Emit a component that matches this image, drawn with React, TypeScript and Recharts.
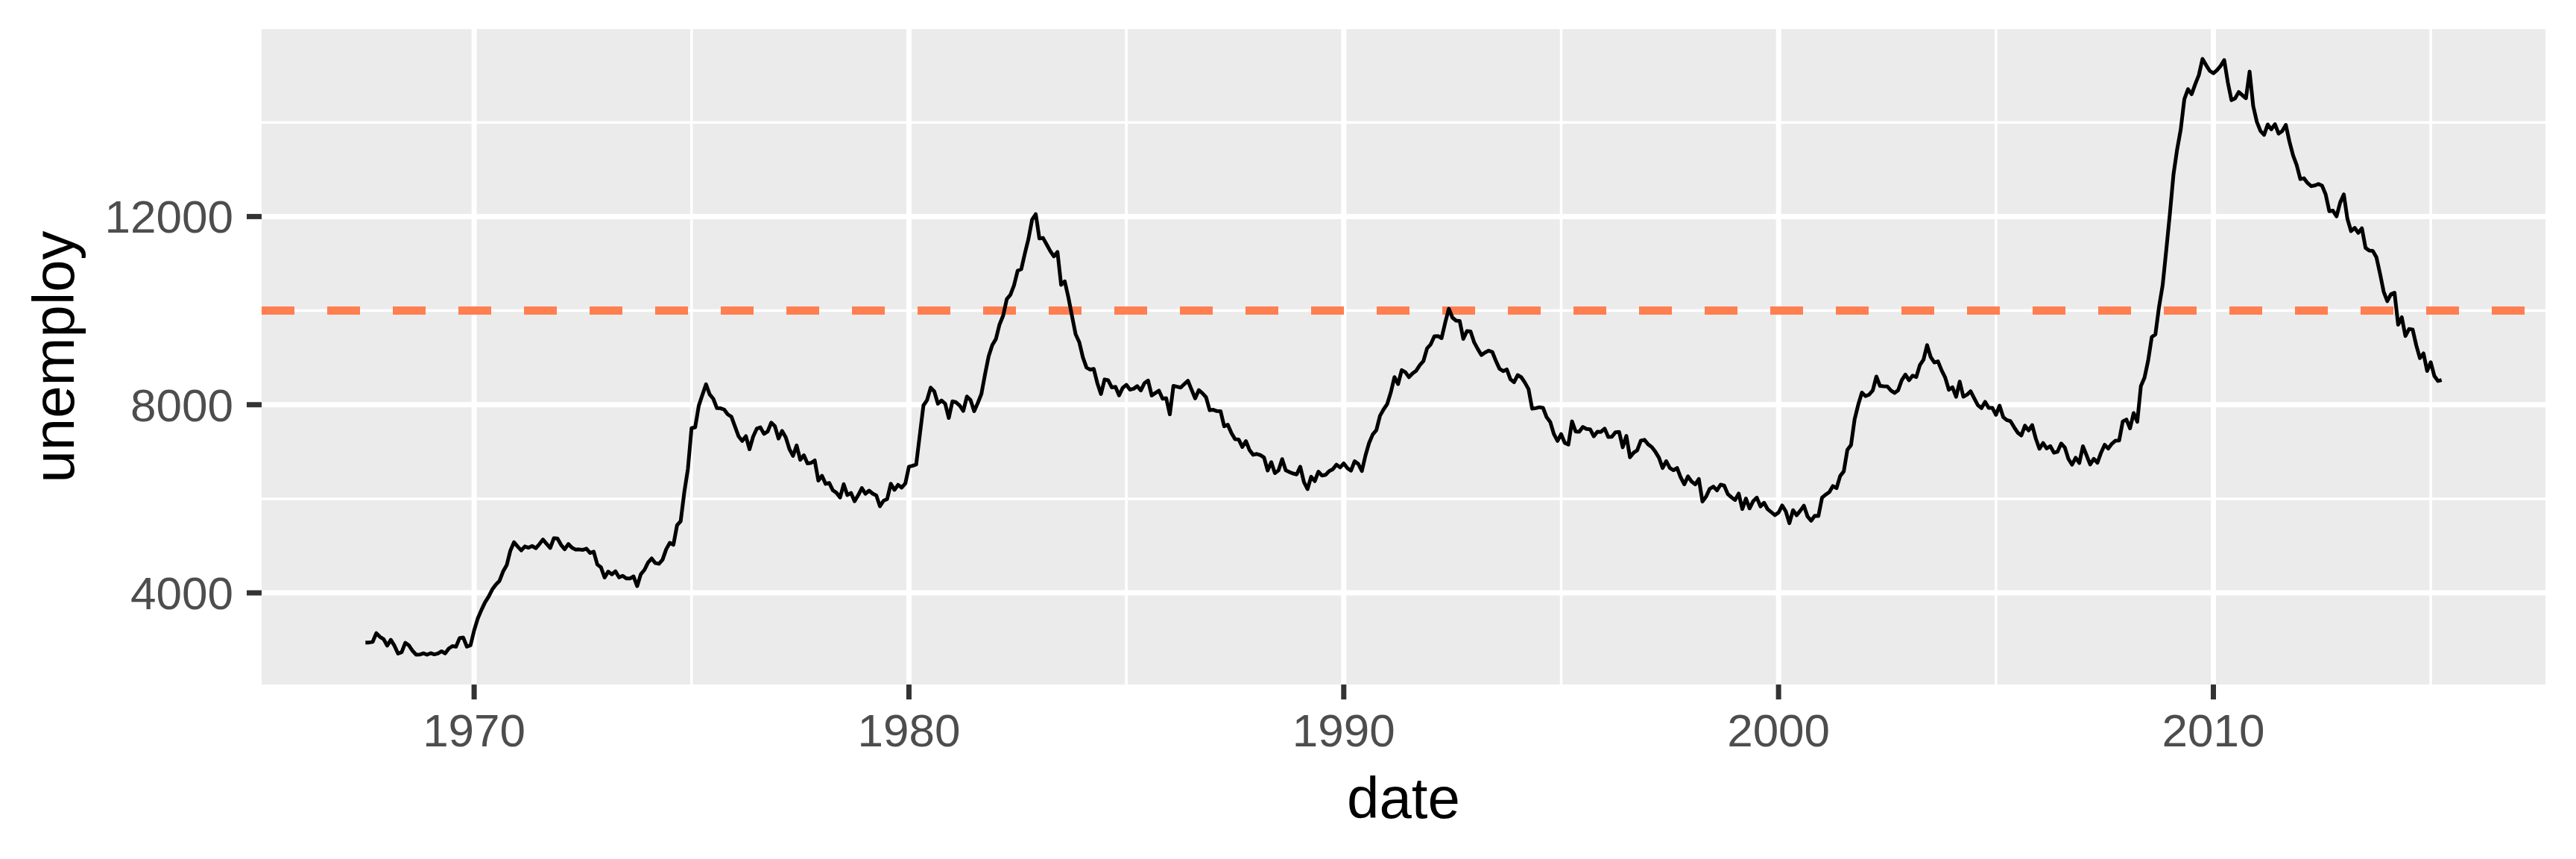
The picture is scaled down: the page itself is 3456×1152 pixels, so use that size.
import { LineChart, Line, XAxis, YAxis, CartesianGrid, ReferenceLine } from 'recharts';

// monthly unemployment (thousands), Jul 1967 .. Apr 2015
const startYear = 1967;
const startMonth = 7;

const unemploy1960s = [
  2944, 2945, 2958, 3143, 3066, 3018,
  2878, 3001, 2877, 2709, 2740, 2938, 2883, 2768, 2686, 2689, 2715, 2685,
  2718, 2692, 2712, 2758, 2713, 2816, 2868, 2856, 3040, 3049, 2856, 2884,
];
const unemploy1970s = [
  3201, 3453, 3635, 3797, 3919, 4071, 4175, 4256, 4456, 4591, 4898, 5076,
  4986, 4903, 4987, 4959, 4996, 4949, 5035, 5134, 5042, 4954, 5161, 5154,
  5019, 4928, 5038, 4959, 4922, 4923, 4913, 4939, 4849, 4875, 4602, 4543,
  4326, 4452, 4394, 4459, 4329, 4363, 4305, 4305, 4350, 4144, 4396, 4489,
  4644, 4731, 4634, 4618, 4705, 4927, 5063, 5022, 5437, 5523, 6140, 6636,
  7501, 7520, 7978, 8210, 8433, 8220, 8127, 7928, 7923, 7897, 7794, 7744,
  7534, 7326, 7230, 7330, 7053, 7322, 7490, 7518, 7380, 7430, 7620, 7545,
  7280, 7443, 7307, 7059, 6911, 7134, 6829, 6925, 6751, 6763, 6815, 6386,
  6489, 6318, 6337, 6180, 6127, 6028, 6309, 6080, 6125, 5947, 6077, 6228,
  6109, 6173, 6109, 6069, 5840, 5959, 5996, 6320, 6190, 6296, 6238, 6325,
];
const unemploy1980s = [
  6683, 6702, 6729, 7358, 7984, 8098, 8363, 8281, 8021, 8088, 8023, 7718,
  8071, 8051, 7982, 7869, 8174, 8098, 7863, 8036, 8230, 8646, 9029, 9267,
  9397, 9705, 9895, 10244, 10335, 10538, 10849, 10881, 11217, 11529, 11938, 12051,
  11534, 11545, 11408, 11268, 11154, 11246, 10548, 10623, 10282, 9887, 9499, 9331,
  9008, 8791, 8746, 8762, 8456, 8226, 8537, 8519, 8367, 8381, 8198, 8358,
  8423, 8321, 8339, 8395, 8302, 8460, 8513, 8196, 8248, 8298, 8128, 8138,
  7795, 8402, 8383, 8364, 8439, 8508, 8319, 8135, 8310, 8243, 8159, 7883,
  7892, 7865, 7862, 7542, 7574, 7398, 7268, 7261, 7102, 7227, 7035, 6936,
  6953, 6929, 6876, 6601, 6779, 6546, 6605, 6843, 6604, 6568, 6537, 6518,
  6682, 6359, 6205, 6468, 6375, 6577, 6495, 6511, 6590, 6630, 6725, 6667,
];
const unemploy1990s = [
  6752, 6651, 6598, 6797, 6742, 6590, 6922, 7188, 7368, 7459, 7764, 7901,
  8015, 8265, 8586, 8439, 8736, 8692, 8586, 8666, 8722, 8842, 8931, 9198,
  9283, 9454, 9460, 9415, 9744, 10040, 9850, 9787, 9781, 9398, 9565, 9557,
  9325, 9183, 9056, 9110, 9149, 9121, 8930, 8763, 8714, 8750, 8542, 8477,
  8630, 8583, 8470, 8331, 7915, 7927, 7946, 7933, 7734, 7632, 7375, 7230,
  7375, 7187, 7153, 7645, 7430, 7427, 7527, 7484, 7478, 7328, 7426, 7423,
  7491, 7313, 7318, 7415, 7423, 7095, 7337, 6882, 6979, 7031, 7236, 7253,
  7158, 7102, 7000, 6873, 6655, 6799, 6655, 6608, 6656, 6454, 6308, 6476,
  6368, 6306, 6422, 5941, 6047, 6212, 6259, 6179, 6300, 6280, 6100, 6032,
  5976, 6111, 5783, 6004, 5796, 5951, 6025, 5838, 5915, 5778, 5716, 5653,
];
const unemploy2000s = [
  5708, 5858, 5733, 5481, 5758, 5651, 5747, 5853, 5625, 5534, 5639, 5634,
  6023, 6089, 6141, 6271, 6226, 6484, 6583, 7042, 7142, 7694, 8003, 8258,
  8182, 8215, 8304, 8599, 8399, 8393, 8390, 8304, 8251, 8307, 8520, 8640,
  8520, 8618, 8588, 8842, 8957, 9266, 9011, 8896, 8921, 8732, 8576, 8317,
  8370, 8167, 8491, 8170, 8212, 8286, 8136, 7990, 7927, 8061, 7932, 7934,
  7784, 7980, 7737, 7672, 7651, 7524, 7406, 7345, 7553, 7453, 7566, 7279,
  7064, 7184, 7072, 7120, 6980, 7001, 7175, 7091, 6847, 6727, 6872, 6762,
  7116, 6927, 6731, 6850, 6766, 6979, 7149, 7067, 7170, 7237, 7240, 7645,
  7685, 7497, 7822, 7637, 8395, 8575, 8937, 9438, 9494, 10074, 10538, 11286,
  12058, 12898, 13426, 13853, 14499, 14707, 14601, 14814, 15009, 15352, 15219, 15098,
];
const unemploy2010s = [
  15046, 15113, 15202, 15325, 14849, 14474, 14512, 14648, 14579, 14516, 15081, 14348,
  14013, 13820, 13737, 13957, 13855, 13962, 13763, 13818, 13948, 13594, 13302, 13093,
  12797, 12813, 12713, 12646, 12660, 12692, 12656, 12471, 12115, 12124, 12005, 12298,
  12471, 11950, 11689, 11760, 11654, 11751, 11335, 11279, 11270, 11136, 10787, 10404,
  10202, 10349, 10380, 9702, 9859, 9460, 9608, 9599, 9262, 8990, 9090, 8717,
  8903, 8610, 8504, 8526,
];

const xMajor = [1970, 1980, 1990, 2000, 2010];
const xMinor = [1965, 1975, 1985, 1995, 2005, 2015];
const yMajor = [4000, 8000, 12000];
const yMinor = [6000, 10000, 14000];
const threshold = 10000;

const unemploy = [
  ...unemploy1960s, ...unemploy1970s, ...unemploy1980s,
  ...unemploy1990s, ...unemploy2000s, ...unemploy2010s,
];

const data = unemploy.map((v, i) => ({
  date: startYear + (startMonth - 1 + i) / 12,
  unemploy: v,
}));

// ggplot-style 5% expansion
const xMin = data[0].date;
const xMax = data[data.length - 1].date;
const yMin = Math.min(...unemploy);
const yMax = Math.max(...unemploy);
const xPad = (xMax - xMin) * 0.05;
const yPad = (yMax - yMin) * 0.05;

const FONT = '"Liberation Sans", Arial, sans-serif';

const xTitle = (props: any) => {
  const vb = props.viewBox;
  return (
    <text x={vb.x + vb.width / 2} y={vb.y + 179} textAnchor="middle" fontSize={78} fontFamily={FONT} fill="#000">
      date
    </text>
  );
};

const yTitle = (props: any) => {
  const vb = props.viewBox;
  const x = vb.x + 99;
  const y = vb.y + vb.height / 2;
  return (
    <text x={x} y={y} transform={`rotate(-90, ${x}, ${y})`} textAnchor="middle" fontSize={78} fontFamily={FONT} fill="#000">
      unemploy
    </text>
  );
};

export default function App() {
  const tickStyle = { fill: '#4D4D4D', fontSize: 62, fontFamily: FONT };
  const tickLine = { stroke: '#333333', strokeWidth: 7 };
  return (
    <div style={{ position: 'absolute', left: 0, top: 0, width: 3456, height: 1152, background: '#fff' }}>
      <LineChart width={3456} height={1152} data={data} margin={{ top: 39, right: 41, left: 0, bottom: 0 }}>
        <CartesianGrid
          fill="#EBEBEB"
          fillOpacity={1}
          stroke="#FFFFFF"
          strokeWidth={3.5}
          verticalValues={xMinor}
          horizontalValues={yMinor}
          syncWithTicks={false}
        />
        <CartesianGrid
          stroke="#FFFFFF"
          strokeWidth={7}
          verticalValues={xMajor}
          horizontalValues={yMajor}
          syncWithTicks={false}
        />
        <XAxis
          dataKey="date"
          type="number"
          domain={[xMin - xPad, xMax + xPad]}
          ticks={xMajor}
          tickFormatter={(v) => String(v)}
          height={234}
          axisLine={false}
          tickSize={20}
          tickMargin={19}
          tickLine={tickLine}
          tick={tickStyle}
          interval={0}
          label={xTitle}
        />
        <YAxis
          type="number"
          domain={[yMin - yPad, yMax + yPad]}
          ticks={yMajor}
          width={351}
          axisLine={false}
          tickSize={20}
          tickMargin={18}
          tickLine={tickLine}
          tick={tickStyle}
          interval={0}
          label={yTitle}
        />
        <ReferenceLine
          y={threshold}
          stroke="#FF7F50"
          strokeWidth={11}
          strokeDasharray="44 44"
        />
        <Line
          type="linear"
          dataKey="unemploy"
          stroke="#000000"
          strokeWidth={5}
          strokeLinejoin="round"
          dot={false}
          activeDot={false}
          isAnimationActive={false}
        />
      </LineChart>
    </div>
  );
}
